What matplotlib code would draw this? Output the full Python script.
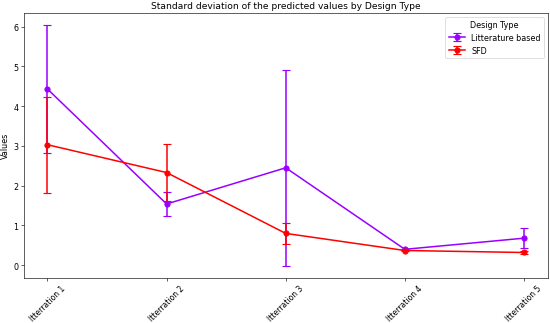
import numpy as np
import matplotlib
matplotlib.use("Agg")
import matplotlib.pyplot as plt

iterations = ["Itterration 1", "Itterration 2", "Itterration 3", "Itterration 4", "Itterration 5"]
design_types = ["Litterature based", "SFD"]
lit_mean = [4.43, 1.54, 2.45, 0.40, 0.68]
lit_err = [1.61, 0.31, 2.46, 0.02, 0.25]
sfd_mean = [3.03, 2.33, 0.80, 0.37, 0.32]
sfd_err = [1.21, 0.71, 0.26, 0.02, 0.03]
colors = ["#9900ff", "red"]

plt.rcParams["font.size"] = 10.5
fig, ax = plt.subplots(figsize=(10, 5.89), dpi=55)
x = np.arange(len(iterations))
for name, mean, err, col in zip(design_types, [lit_mean, sfd_mean],
                                [lit_err, sfd_err], colors):
    ax.errorbar(x, mean, yerr=err, fmt="-o", color=col, capsize=5,
                label=name, linewidth=2, markersize=7, capthick=1.5)

ax.set_xticks(x)
ax.set_xticklabels(iterations, rotation=45, fontsize=10)
ax.set_ylabel("Values")
ax.set_title("Standard deviation of the predicted values by Design Type", fontsize=12)
ax.legend(title="Design Type", loc="upper right")
fig.subplots_adjust(left=0.043, right=0.996, bottom=0.14, top=0.957)
fig.savefig("out.png", dpi=55)
